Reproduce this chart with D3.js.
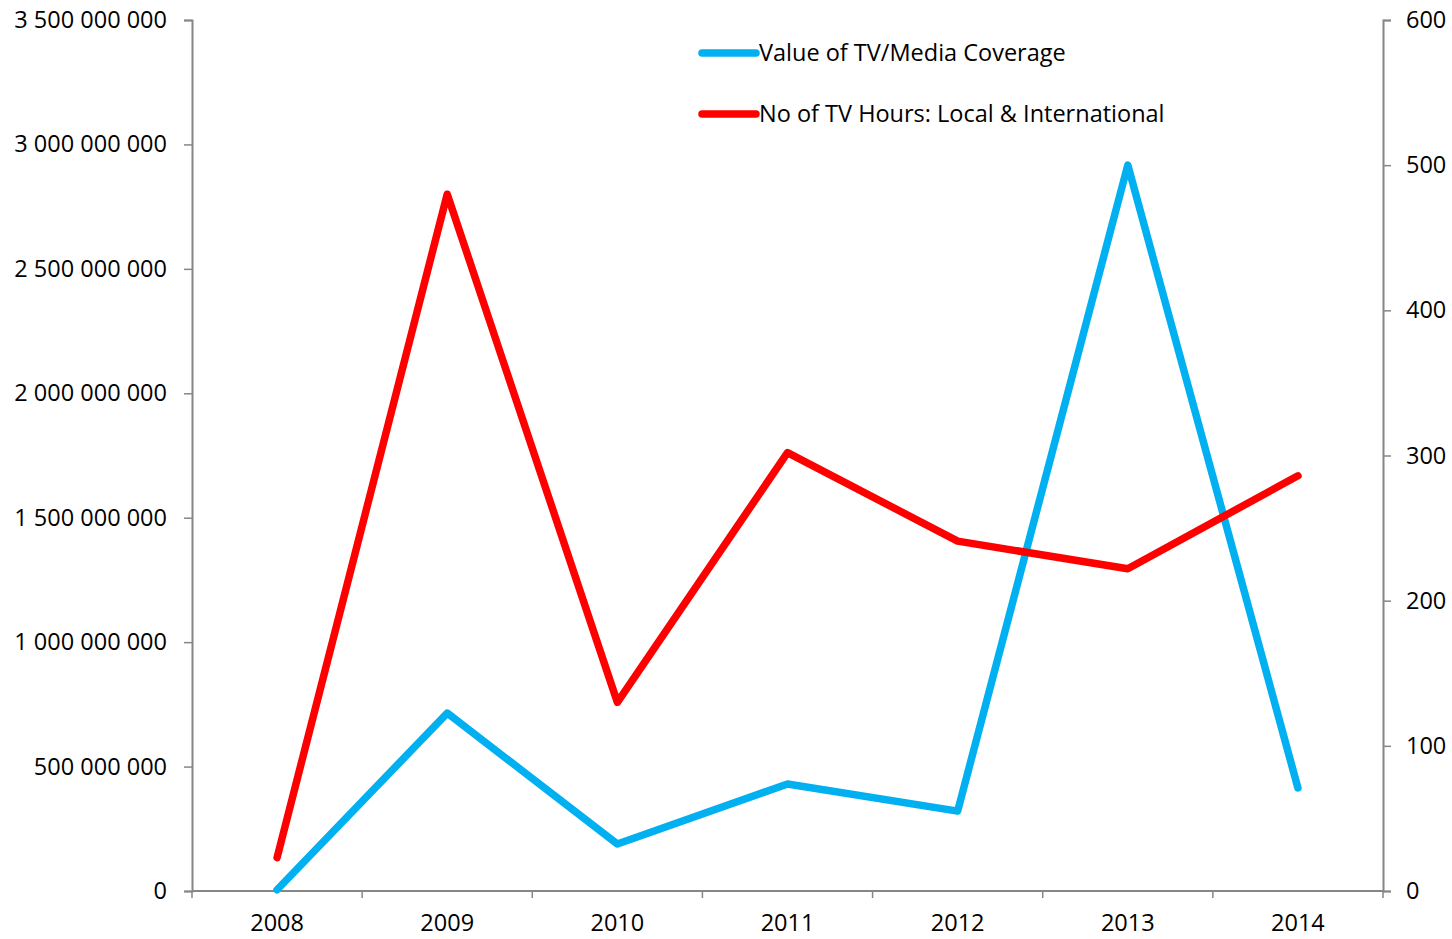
<!DOCTYPE html>
<html>
<head>
<meta charset="utf-8">
<script src="https://cdn.jsdelivr.net/npm/d3@7/dist/d3.min.js"></script>
<style>
  body { margin: 0; background: #fff; }
  text { font-family: "Open Sans", Lato, sans-serif; fill: #000; }
</style>
</head>
<body>
<div id="chart"></div>
<script>
var years = ["2008", "2009", "2010", "2011", "2012", "2013", "2014"];
var coverageValue = [5000000, 715000000, 189000000, 430000000, 321000000, 2917000000, 414000000];
var tvHours = [23, 480, 130, 302, 241, 222, 286];
var leftTicks = [0, 500000000, 1000000000, 1500000000, 2000000000, 2500000000, 3000000000, 3500000000];
var rightTicks = [0, 100, 200, 300, 400, 500, 600];
var seriesNames = ["Value of TV/Media Coverage", "No of TV Hours: Local & International"];
var seriesColors = ["#00b0f0", "#ff0000"];

var width = 1452, height = 939;
var plotLeft = 192, plotRight = 1383, plotTop = 20, plotBottom = 891;
var axisColor = "#868686";
var fontFamily = "'Open Sans', Lato, sans-serif";
var fontSize = "23.5px";

var svg = d3.select("#chart").append("svg")
  .attr("width", width)
  .attr("height", height);

var x = d3.scaleBand().domain(years).range([plotLeft, plotRight]);
var yL = d3.scaleLinear().domain([0, 3500000000]).range([plotBottom, plotTop]);
var yR = d3.scaleLinear().domain([0, 600]).range([plotBottom, plotTop]);

function fmt(v) {
  return d3.format(",")(v).replace(/,/g, " ");
}

// left axis
var gL = svg.append("g").attr("transform", "translate(" + plotLeft + ",0)")
  .call(d3.axisLeft(yL).tickValues(leftTicks).tickSize(8).tickPadding(17).tickFormat(fmt));
// right axis
var gR = svg.append("g").attr("transform", "translate(" + plotRight + ",0)")
  .call(d3.axisRight(yR).tickValues(rightTicks).tickSize(8).tickPadding(15).tickFormat(d3.format("d")));
// bottom axis
var gB = svg.append("g").attr("transform", "translate(0," + plotBottom + ")")
  .call(d3.axisBottom(x).tickSize(0).tickPadding(23));

// category boundary ticks
svg.append("g").selectAll("line")
  .data(d3.range(years.length + 1))
  .enter().append("line")
  .attr("x1", function(i) { return plotLeft + i * x.step(); })
  .attr("x2", function(i) { return plotLeft + i * x.step(); })
  .attr("y1", plotBottom)
  .attr("y2", plotBottom + 7)
  .attr("stroke", axisColor)
  .attr("stroke-width", 1.5);

[gL, gR, gB].forEach(function(g) {
  g.selectAll("path.domain").attr("stroke", axisColor).attr("stroke-width", 2);
  g.selectAll(".tick line").attr("stroke", axisColor).attr("stroke-width", 1.5);
  g.selectAll("text").style("font-size", fontSize).style("font-family", fontFamily).attr("fill", "#000");
});
gB.select("path.domain").attr("d", "M" + plotLeft + ",0H" + plotRight);

var cx = function(d, i) { return x(years[i]) + x.bandwidth() / 2; };

var lineL = d3.line().x(cx).y(function(d) { return yL(d); });
var lineR = d3.line().x(cx).y(function(d) { return yR(d); });

svg.append("path")
  .datum(coverageValue)
  .attr("d", lineL)
  .attr("fill", "none")
  .attr("stroke", seriesColors[0])
  .attr("stroke-width", 7.5)
  .attr("stroke-linejoin", "round")
  .attr("stroke-linecap", "round");

svg.append("path")
  .datum(tvHours)
  .attr("d", lineR)
  .attr("fill", "none")
  .attr("stroke", seriesColors[1])
  .attr("stroke-width", 7.5)
  .attr("stroke-linejoin", "round")
  .attr("stroke-linecap", "round");

// legend
var legend = svg.append("g").selectAll("g")
  .data(seriesNames)
  .enter().append("g")
  .attr("transform", function(d, i) { return "translate(702," + (53 + i * 61) + ")"; });

legend.append("line")
  .attr("x1", 0).attr("x2", 54)
  .attr("stroke", function(d, i) { return seriesColors[i]; })
  .attr("stroke-width", 7.5)
  .attr("stroke-linecap", "round");

legend.append("text")
  .attr("x", 57)
  .attr("dy", "0.35em")
  .style("font-size", fontSize)
  .style("font-family", fontFamily)
  .text(function(d) { return d; });
</script>
</body>
</html>
